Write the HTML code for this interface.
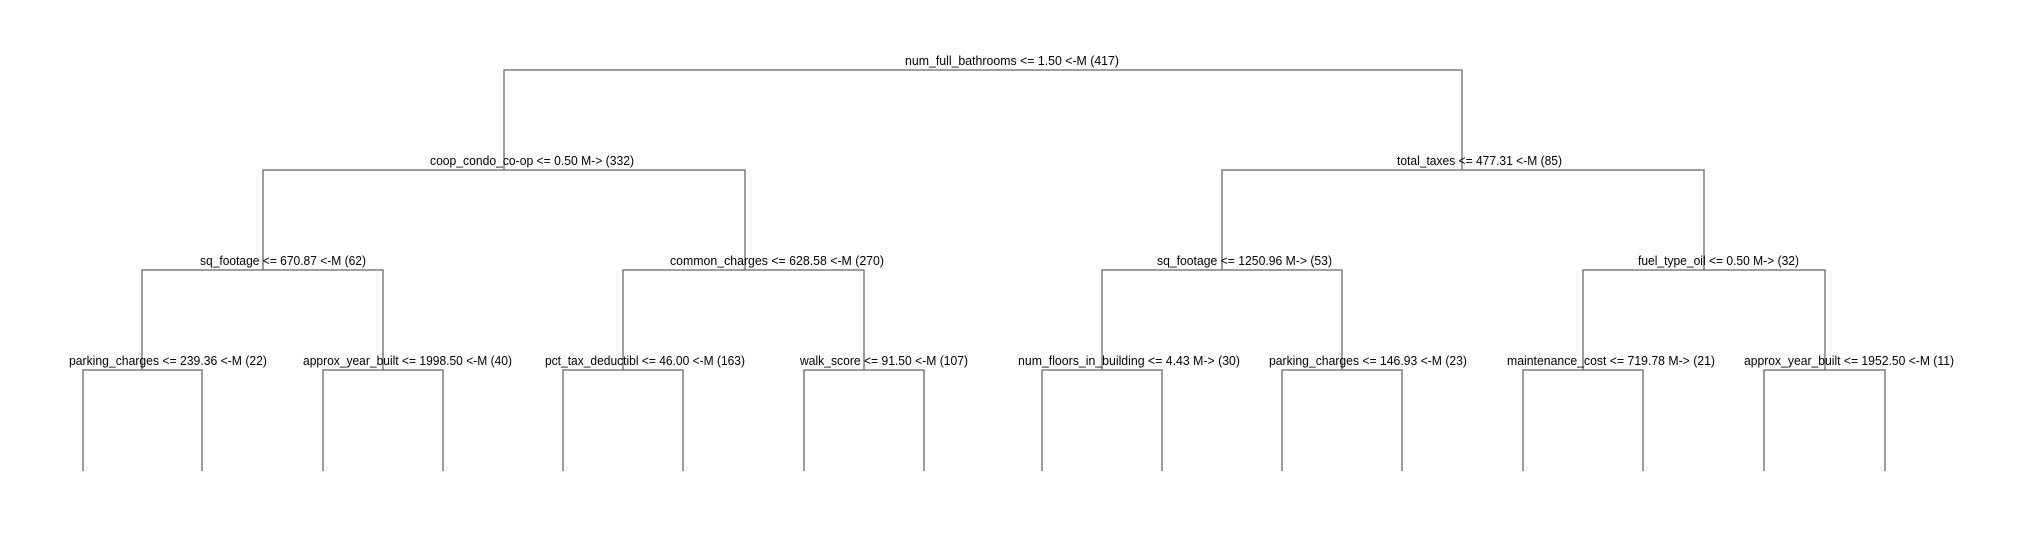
<!DOCTYPE html>
<html><head><meta charset="utf-8"><style>html,body{margin:0;padding:0;background:#fff}svg{display:block}</style></head>
<body>
<svg width="2020" height="540" viewBox="0 0 2020 540" xmlns="http://www.w3.org/2000/svg">
<g stroke="#666" stroke-width="1.3" fill="none">
<path d="M504,170 V70 H1462 V170"/>
<path d="M263,270 V170 H745 V270"/>
<path d="M1222,270 V170 H1704 V270"/>
<path d="M142,370 V270 H383 V370"/>
<path d="M623,370 V270 H864 V370"/>
<path d="M1102,370 V270 H1342 V370"/>
<path d="M1583,370 V270 H1825 V370"/>
<path d="M83,471 V370 H202 V471"/>
<path d="M323,471 V370 H443 V471"/>
<path d="M563,471 V370 H683 V471"/>
<path d="M804,471 V370 H924 V471"/>
<path d="M1042,471 V370 H1162 V471"/>
<path d="M1282,471 V370 H1402 V471"/>
<path d="M1523,471 V370 H1643 V471"/>
<path d="M1764,471 V370 H1885 V471"/>
</g>
<g font-family="Liberation Sans, sans-serif" font-size="13" fill="#000">
<text x="905" y="65" textLength="214" lengthAdjust="spacingAndGlyphs">num_full_bathrooms &lt;= 1.50 &lt;-M (417)</text>
<text x="430" y="165" textLength="204" lengthAdjust="spacingAndGlyphs">coop_condo_co-op &lt;= 0.50 M-&gt; (332)</text>
<text x="1397" y="165" textLength="165" lengthAdjust="spacingAndGlyphs">total_taxes &lt;= 477.31 &lt;-M (85)</text>
<text x="200" y="265" textLength="166" lengthAdjust="spacingAndGlyphs">sq_footage &lt;= 670.87 &lt;-M (62)</text>
<text x="670" y="265" textLength="214" lengthAdjust="spacingAndGlyphs">common_charges &lt;= 628.58 &lt;-M (270)</text>
<text x="1157" y="265" textLength="175" lengthAdjust="spacingAndGlyphs">sq_footage &lt;= 1250.96 M-&gt; (53)</text>
<text x="1638" y="265" textLength="161" lengthAdjust="spacingAndGlyphs">fuel_type_oil &lt;= 0.50 M-&gt; (32)</text>
<text x="69" y="365" textLength="198" lengthAdjust="spacingAndGlyphs">parking_charges &lt;= 239.36 &lt;-M (22)</text>
<text x="303" y="365" textLength="209" lengthAdjust="spacingAndGlyphs">approx_year_built &lt;= 1998.50 &lt;-M (40)</text>
<text x="545" y="365" textLength="200" lengthAdjust="spacingAndGlyphs">pct_tax_deductibl &lt;= 46.00 &lt;-M (163)</text>
<text x="800" y="365" textLength="168" lengthAdjust="spacingAndGlyphs">walk_score &lt;= 91.50 &lt;-M (107)</text>
<text x="1018" y="365" textLength="222" lengthAdjust="spacingAndGlyphs">num_floors_in_building &lt;= 4.43 M-&gt; (30)</text>
<text x="1269" y="365" textLength="198" lengthAdjust="spacingAndGlyphs">parking_charges &lt;= 146.93 &lt;-M (23)</text>
<text x="1507" y="365" textLength="208" lengthAdjust="spacingAndGlyphs">maintenance_cost &lt;= 719.78 M-&gt; (21)</text>
<text x="1744" y="365" textLength="210" lengthAdjust="spacingAndGlyphs">approx_year_built &lt;= 1952.50 &lt;-M (11)</text>
</g>
</svg>
</body></html>
